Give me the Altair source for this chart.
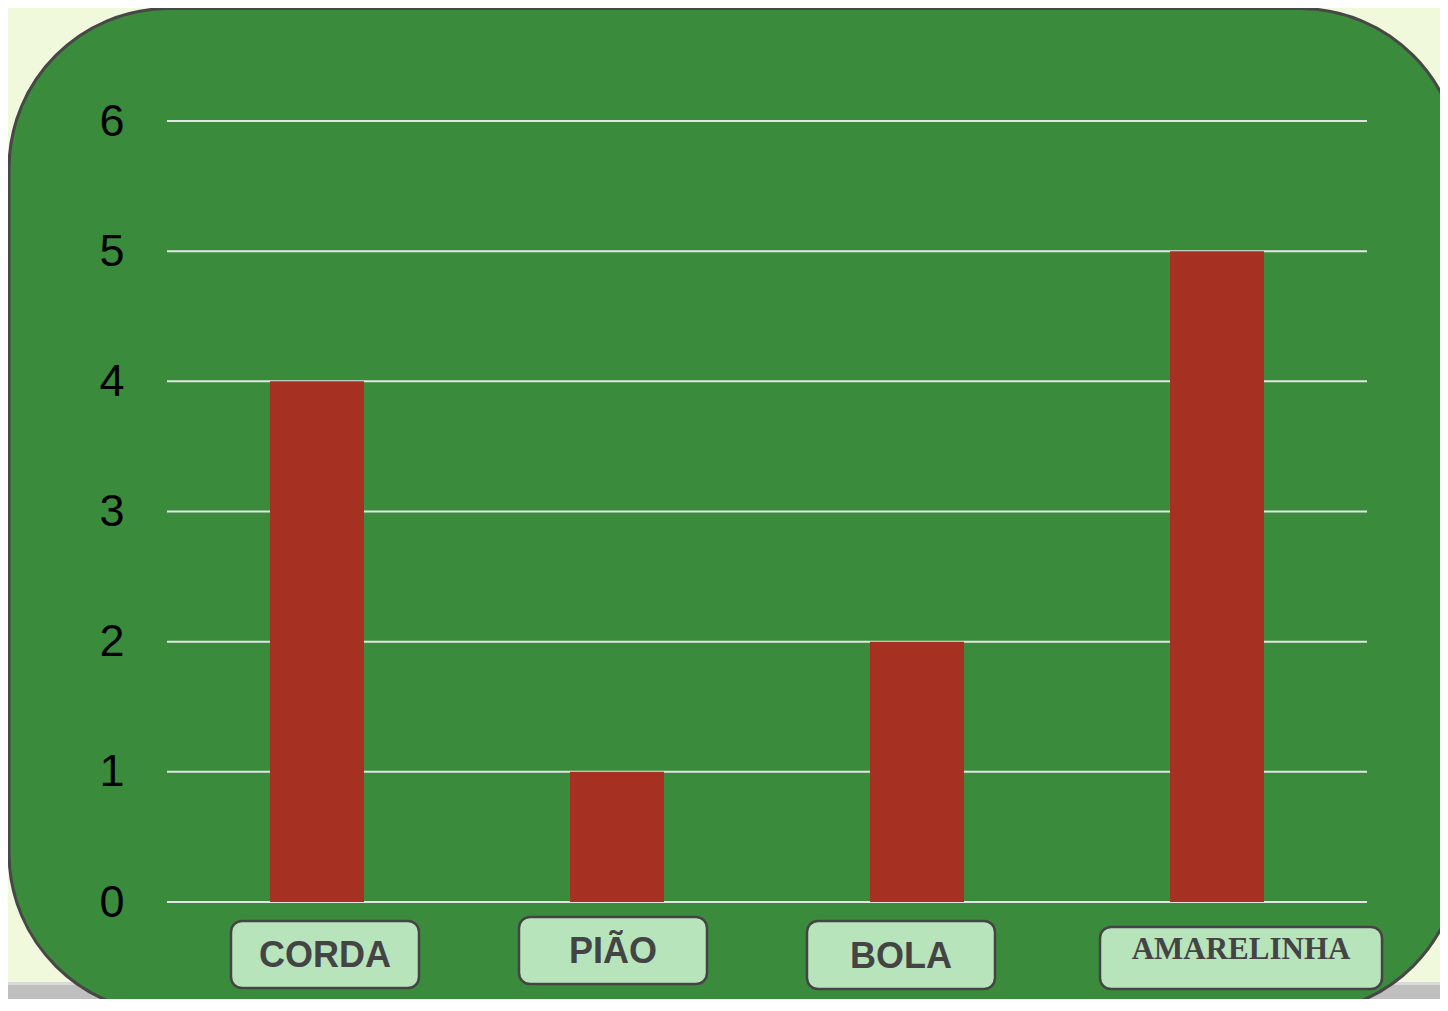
import altair as alt
import pandas as pd

# ---- data ----
categories = ["CORDA", "PIÃO", "BOLA", "AMARELINHA"]
values = [4, 1, 2, 5]
y_ticks = [0, 1, 2, 3, 4, 5, 6]

df = pd.DataFrame({"brincadeira": categories, "valor": values})
ticks_df = pd.DataFrame({"valor": y_ticks})
one = pd.DataFrame({"k": [0]})

# ---- layout / style (not data) ----
W, H = 1200, 781
GREEN = "#3a8c3c"
RED = "#a63022"
BOX_FILL = "#b8e4bc"
DARK = "#444444"

label_style = {
    "CORDA":      dict(dx=8,   top=800, bottom=867, w=188, font="Liberation Sans", size=36, ty=835),
    "PIÃO":       dict(dx=-4,  top=796, bottom=863, w=188, font="Liberation Sans", size=36, ty=831),
    "BOLA":       dict(dx=-16, top=800, bottom=868, w=188, font="Liberation Sans", size=36, ty=836),
    "AMARELINHA": dict(dx=24,  top=806, bottom=868, w=282, font="Liberation Serif", size=31, ty=829),
}

x_scale = alt.Scale(domain=categories, paddingInner=0.6867, paddingOuter=0.3433)
y_scale = alt.Scale(domain=[0, 6], nice=False, zero=True)

y_axis = alt.Axis(
    values=y_ticks, grid=False, domain=False, ticks=False,
    labelFontSize=45, labelFont="Liberation Sans", labelColor="#000000",
    labelPadding=43, title=None, zindex=2, format="d", labelFlush=False,
    labelOverlap=False,
)

x_enc = alt.X("brincadeira:N", scale=x_scale, sort=categories, axis=None)
y_enc = alt.Y("valor:Q", scale=y_scale, axis=y_axis)

# bottom grey strip (decoration)
strip = alt.Chart(one).mark_rect(fill="#bfbfbf").encode(
    x=alt.value(-170), x2=alt.value(1290), y=alt.value(861), y2=alt.value(900)
)
strip_line = alt.Chart(one).mark_rect(fill="#d9d9d9").encode(
    x=alt.value(-170), x2=alt.value(1290), y=alt.value(861), y2=alt.value(864)
)

# green rounded panel (decoration)
panel = alt.Chart(one).mark_rect(
    fill=GREEN, stroke="#474747", strokeWidth=3, cornerRadius=160
).encode(
    x=alt.value(-158), x2=alt.value(1293), y=alt.value(-112.5), y2=alt.value(892)
)

grid = alt.Chart(ticks_df).mark_rule(color="#e4e4e4", strokeWidth=2).encode(
    y=y_enc, x=alt.value(0), x2=alt.value(W),
)

bars = alt.Chart(df).mark_bar(color=RED).encode(x=x_enc, y=y_enc)

layers = [strip, strip_line, panel, grid, bars]

for cat in categories:
    s = label_style[cat]
    sub = alt.Chart(df).transform_filter(alt.datum.brincadeira == cat)
    box = sub.mark_bar(
        width=s["w"], xOffset=s["dx"], cornerRadius=11,
        fill=BOX_FILL, stroke=DARK, strokeWidth=2.5,
    ).encode(x=x_enc, y=alt.value(s["top"]), y2=alt.value(s["bottom"]))
    txt = sub.mark_text(
        font=s["font"], fontSize=s["size"], fontWeight="bold", color=DARK,
        xOffset=s["dx"], baseline="middle", align="center",
    ).encode(x=x_enc, y=alt.value(s["ty"]), text="brincadeira:N")
    layers += [box, txt]

chart = alt.layer(*layers).properties(
    width=W, height=H,
    autosize=alt.AutoSizeParams(type="none"),
    padding={"left": 159, "top": 113, "right": 73, "bottom": 97},
    background="#f1f9dc",
).configure_view(stroke=None)

chart.save("out.html", embed_options={"renderer": "svg", "actions": False})
